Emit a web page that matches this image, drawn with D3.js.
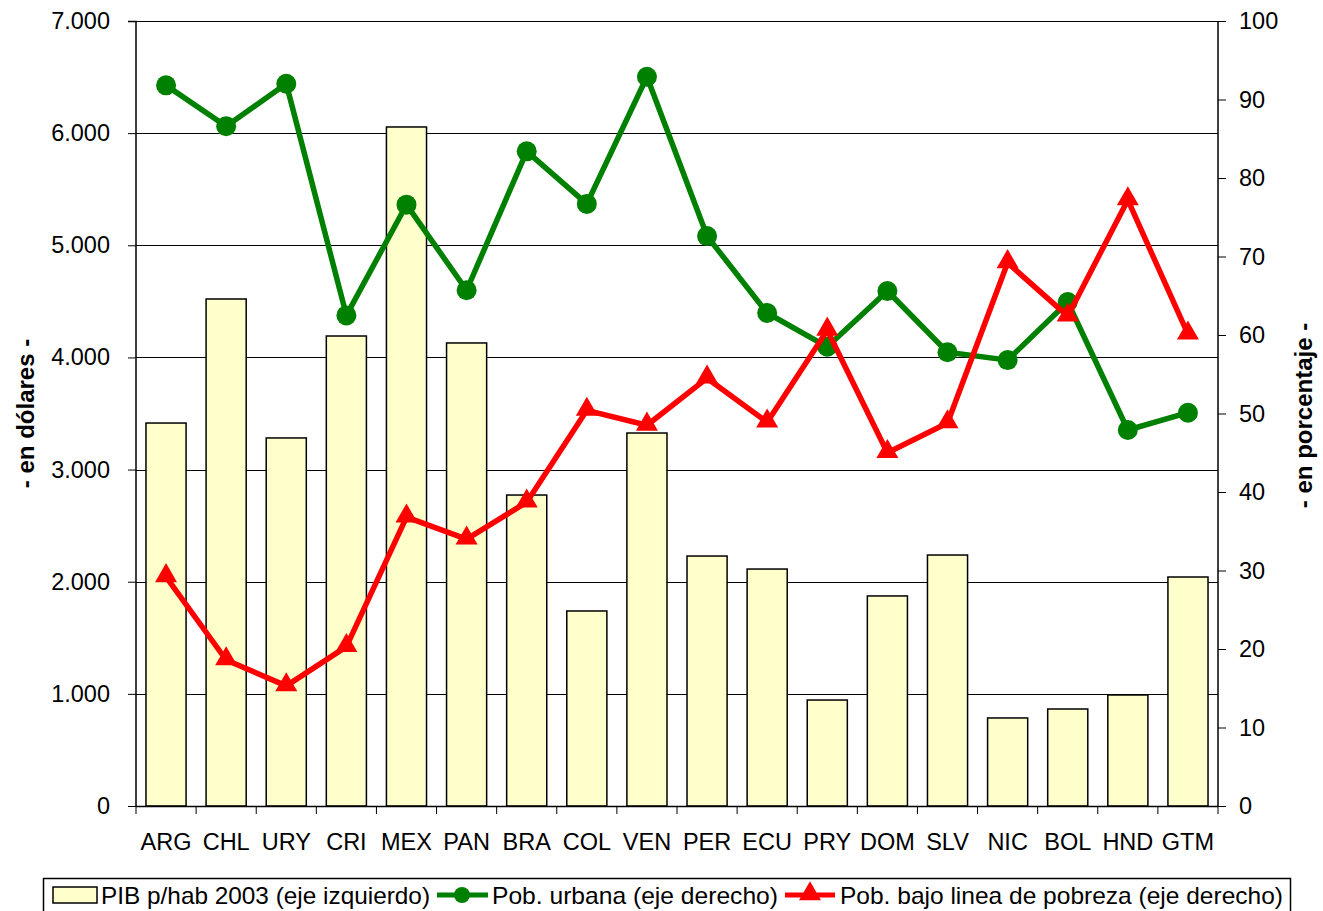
<!DOCTYPE html>
<html><head><meta charset="utf-8">
<script src="https://cdn.jsdelivr.net/npm/d3@7"></script>
<style>body{margin:0;background:#fff}svg{display:block;font-family:"Liberation Sans",Arial,sans-serif}</style>
</head><body><svg id="c" width="1323" height="911"></svg>
<script>
const categories=["ARG","CHL","URY","CRI","MEX","PAN","BRA","COL","VEN","PER","ECU","PRY","DOM","SLV","NIC","BOL","HND","GTM"];
const pibValues=[3415,4521,3282,4191,6055,4129,2773,1739,3326,2229,2113,945,1873,2238,785,865,990,2042];
const urbanValues=[91.8,86.6,92.0,62.5,76.6,65.7,83.4,76.7,92.9,72.6,62.8,58.5,65.6,57.8,56.8,64.2,47.9,50.1];
const povertyValues=[29.2,18.6,15.3,20.3,36.8,34.0,38.7,50.4,48.5,54.5,48.9,60.6,45.0,48.8,69.2,62.4,77.2,60.1];
const leftTicks=[0,1000,2000,3000,4000,5000,6000,7000];
const rightTicks=[0,10,20,30,40,50,60,70,80,90,100];
const seriesNames=["PIB p/hab 2003 (eje izquierdo)","Pob. urbana (eje derecho)","Pob. bajo linea de pobreza (eje derecho)"];

const svg=d3.select("#c");
const L=136,R=1218,T=21,B=806;
const FS=23.5;
const x=d3.scaleBand().domain(categories).range([L,R]).paddingInner(0.333).paddingOuter(0.166);
const xb=d3.scaleBand().domain(categories).range([L,R]);
const yl=d3.scaleLinear().domain([0,7000]).range([B,T]);
const yr=d3.scaleLinear().domain([0,100]).range([B,T]);
const fmt=d=>d3.format(",")(d).replace(/,/g,".");

// gridlines
svg.append("g").selectAll("line").data(leftTicks.slice(1)).join("line")
 .attr("x1",L).attr("x2",R).attr("y1",d=>Math.round(yl(d))+0.5).attr("y2",d=>Math.round(yl(d))+0.5)
 .attr("stroke","#000").attr("stroke-width",1);

// bars
svg.append("g").selectAll("rect").data(pibValues).join("rect")
 .attr("x",(d,i)=>x(categories[i])).attr("width",x.bandwidth())
 .attr("y",d=>yl(d)).attr("height",d=>B-yl(d))
 .attr("fill","#ffffcc").attr("stroke","#000").attr("stroke-width",1.5);

// axes
const gl=svg.append("g").attr("transform",`translate(${L},0)`)
 .call(d3.axisLeft(yl).tickValues(leftTicks).tickFormat(fmt).tickSize(8).tickPadding(18));
const gr=svg.append("g").attr("transform",`translate(${R},0)`)
 .call(d3.axisRight(yr).tickValues(rightTicks).tickSize(8).tickPadding(13));
const gx=svg.append("g").attr("transform",`translate(0,${B})`)
 .call(d3.axisBottom(xb).tickSize(0).tickPadding(27));
[gl,gr,gx].forEach(g=>{g.selectAll("text").attr("font-size",FS).attr("fill","#000").attr("font-family","Liberation Sans, Arial, sans-serif");
 g.selectAll("line").attr("stroke","#000");g.select(".domain").attr("stroke","#000").attr("stroke-width",1.5);});
gl.select(".domain").attr("d",`M-8,${T+0.5}H0V${B}`);
gr.select(".domain").attr("d",`M0,${T+0.5}V${B}`);
gx.select(".domain").attr("d",`M${L},0.5H${R}`);
// category boundary ticks
svg.append("g").selectAll("line").data(d3.range(categories.length+1)).join("line")
 .attr("x1",i=>L+i*xb.step()).attr("x2",i=>L+i*xb.step()).attr("y1",B).attr("y2",B+8)
 .attr("stroke","#000").attr("stroke-width",1);

// axis titles
svg.append("text").attr("transform",`translate(34,${(T+B)/2}) rotate(-90)`).attr("text-anchor","middle")
 .attr("font-size",24).attr("font-weight","bold").text("- en dólares -");
svg.append("text").attr("transform",`translate(1312,${(T+B)/2+2}) rotate(-90)`).attr("text-anchor","middle")
 .attr("font-size",24).attr("font-weight","bold").text("- en porcentaje -");

const cx=(d,i)=>xb(categories[i])+xb.bandwidth()/2;
const line=d3.line().x(cx);
// urban line
svg.append("path").datum(urbanValues).attr("d",line.y(d=>yr(d))).attr("fill","none").attr("stroke","#008000").attr("stroke-width",5.5).attr("stroke-linejoin","round");
svg.append("g").selectAll("circle").data(urbanValues).join("circle").attr("cx",cx).attr("cy",d=>yr(d)).attr("r",10).attr("fill","#008000");
// poverty line
svg.append("path").datum(povertyValues).attr("d",line.y(d=>yr(d))).attr("fill","none").attr("stroke","#ff0000").attr("stroke-width",5.5).attr("stroke-linejoin","round");
const tri=d3.symbol().type(d3.symbolTriangle).size(210);
svg.append("g").selectAll("path").data(povertyValues).join("path").attr("d",tri)
 .attr("transform",(d,i)=>`translate(${cx(d,i)},${yr(d)-1})`).attr("fill","#ff0000");

// legend
const lg=svg.append("g");
lg.append("rect").attr("x",43.5).attr("y",878.5).attr("width",1247).attr("height",40).attr("fill","#fff").attr("stroke","#000").attr("stroke-width",1.5);
lg.append("rect").attr("x",53).attr("y",887).attr("width",44).attr("height",16).attr("fill","#ffffcc").attr("stroke","#000").attr("stroke-width",1.5);
lg.append("text").attr("x",101).attr("y",904).attr("font-size",24).attr("textLength",329).attr("lengthAdjust","spacingAndGlyphs").text(seriesNames[0]);
lg.append("line").attr("x1",437).attr("x2",488).attr("y1",895).attr("y2",895).attr("stroke","#008000").attr("stroke-width",5);
lg.append("circle").attr("cx",462).attr("cy",895).attr("r",8).attr("fill","#008000");
lg.append("text").attr("x",492).attr("y",904).attr("font-size",24).attr("textLength",286).attr("lengthAdjust","spacingAndGlyphs").text(seriesNames[1]);
lg.append("line").attr("x1",785).attr("x2",835).attr("y1",895).attr("y2",895).attr("stroke","#ff0000").attr("stroke-width",5);
lg.append("path").attr("d",tri).attr("transform","translate(810,894)").attr("fill","#ff0000");
lg.append("text").attr("x",840).attr("y",904).attr("font-size",24).attr("textLength",443).attr("lengthAdjust","spacingAndGlyphs").text(seriesNames[2]);
</script></body></html>
